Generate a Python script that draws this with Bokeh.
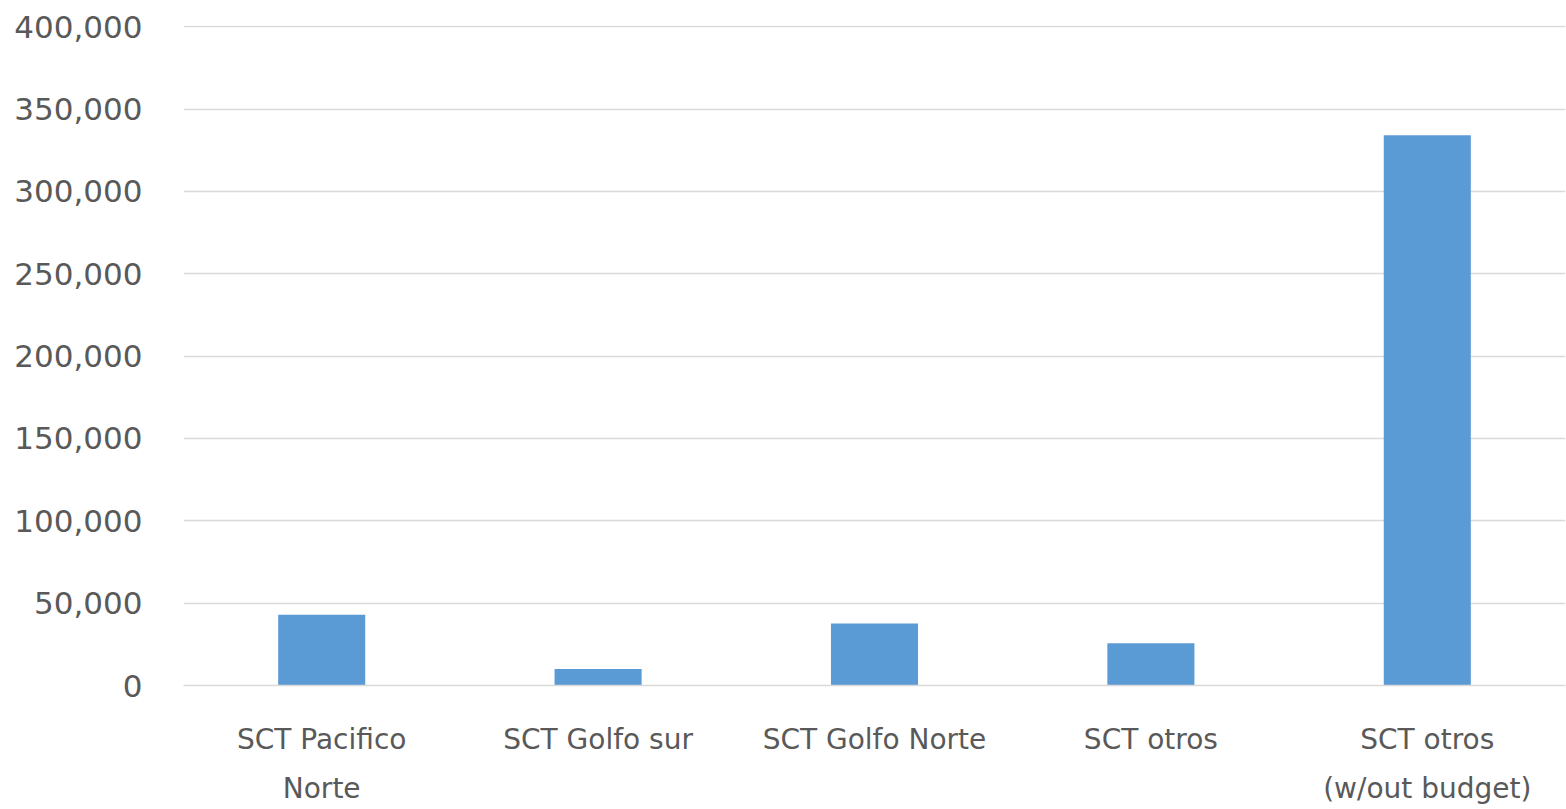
from bokeh.plotting import figure
from bokeh.models import Range1d, NumeralTickFormatter, FixedTicker, ColumnDataSource
from bokeh.embed import file_html
from bokeh.resources import INLINE

categories = ["SCT Pacifico\nNorte", "SCT Golfo sur", "SCT Golfo Norte", "SCT otros", "SCT otros\n(w/out budget)"]
values = [43000, 10000, 37700, 25700, 334000]
y_ticks = [0, 50000, 100000, 150000, 200000, 250000, 300000, 350000, 400000]

src = ColumnDataSource(dict(cat=categories, val=values))

p = figure(x_range=categories, width=1566, height=809, output_backend="svg",
           toolbar_location=None, min_border_left=183, min_border_right=1,
           min_border_top=25, min_border_bottom=124)
p.y_range = Range1d(0, 400700)
p.vbar(x="cat", top="val", width=0.315, source=src, color="#5b9bd5", line_color=None)

p.outline_line_color = None
p.xgrid.grid_line_color = None
p.ygrid.grid_line_color = "#d9d9d9"
p.ygrid.grid_line_width = 1.5
p.yaxis.ticker = FixedTicker(ticks=y_ticks)
p.yaxis.formatter = NumeralTickFormatter(format="0,0")
p.yaxis.axis_line_color = None
p.yaxis.major_tick_line_color = None
p.yaxis.minor_tick_line_color = None
p.yaxis.major_label_standoff = 35
p.yaxis.major_label_text_font = "DejaVu Sans"
p.yaxis.major_label_text_font_size = "31px"
p.yaxis.major_label_text_color = "#595959"

p.xaxis.axis_line_color = "#d9d9d9"
p.xaxis.axis_line_width = 1.5
p.xaxis.major_tick_line_color = None
p.xaxis.minor_tick_line_color = None
p.xaxis.major_label_standoff = 31
p.xaxis.major_label_text_font = "DejaVu Sans"
p.xaxis.major_label_text_font_size = "28px"
p.xaxis.major_label_text_color = "#595959"
p.xaxis.major_label_text_line_height = 1.5

open("out.html", "w").write(file_html(p, INLINE))
